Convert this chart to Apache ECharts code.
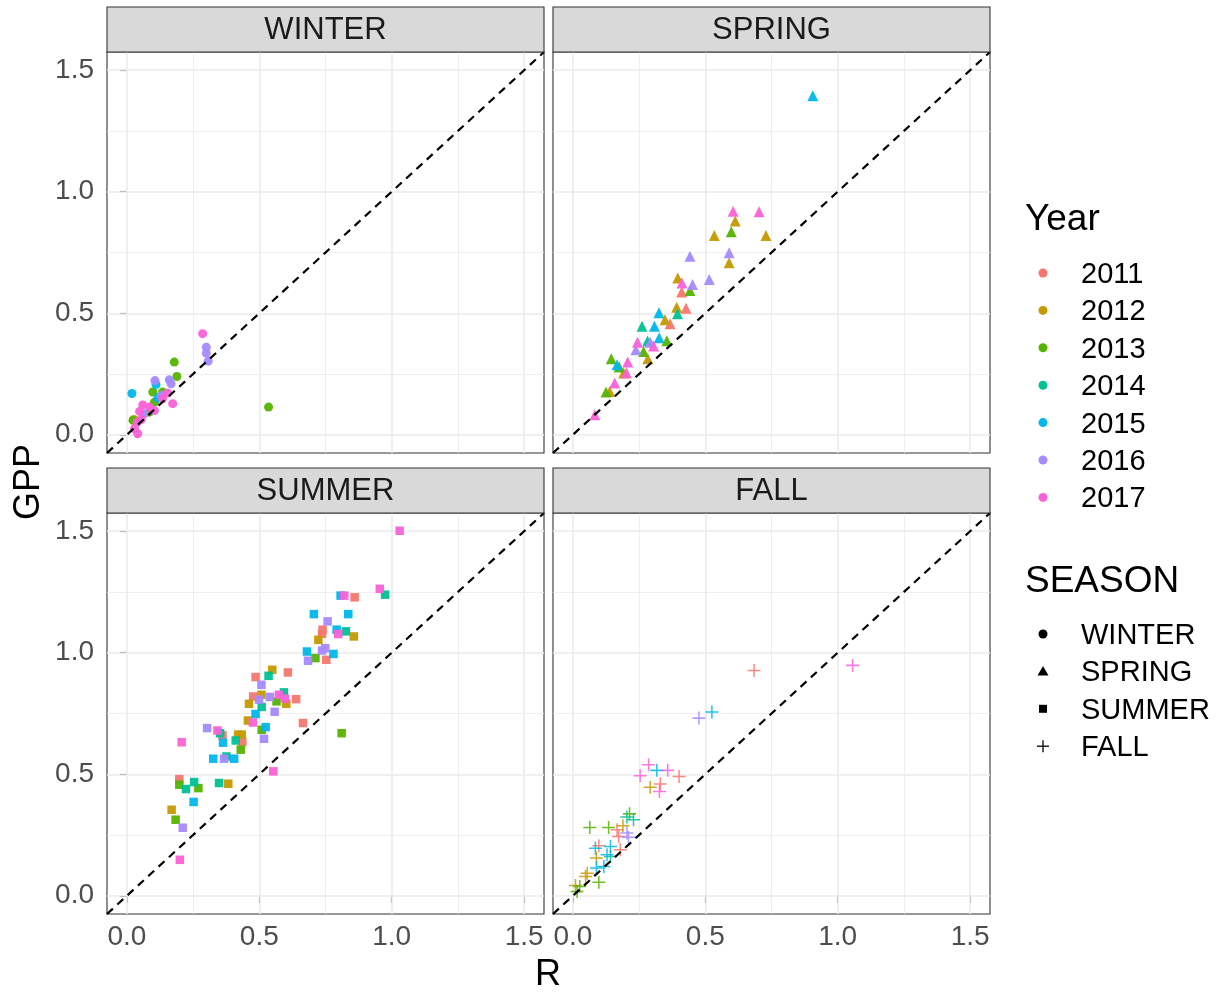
<!DOCTYPE html>
<html><head><meta charset="utf-8">
<script src="https://cdn.jsdelivr.net/npm/echarts@6/dist/echarts.min.js"></script>
<style>html,body{margin:0;padding:0;background:#fff}#c{width:1230px;height:995px}</style>
</head><body><div id="c"></div>
<script>
const years = [2011, 2012, 2013, 2014, 2015, 2016, 2017];
const yearColors = ['#F8766D', '#C49A00', '#53B400', '#00C094', '#00B6EB', '#A58AFF', '#FB61D7'];
const seasons = ['WINTER', 'SPRING', 'SUMMER', 'FALL'];
const tickValues = [0, 0.5, 1.0, 1.5];
const minorValues = [0.25, 0.75, 1.25];

const winterR   = [0.286,0.30,0.30,0.307,0.179,0.189,0.106,0.16,0.167,0.019,0.11,0.098,0.135,0.154,0.13,0.135,0.117,0.104,0.173,0.535,0.06,0.085,0.085,0.104,0.048,0.066,0.054,0.023,0.039,0.029,0.041,0.026];
const winterGPP = [0.416,0.36,0.336,0.303,0.299,0.24,0.223,0.226,0.21,0.17,0.207,0.176,0.176,0.172,0.162,0.148,0.151,0.134,0.128,0.114,0.123,0.114,0.093,0.1,0.096,0.086,0.063,0.059,0.052,0.025,0.004,0.063];
const winterYear= [2017,2016,2016,2016,2013,2013,2016,2016,2016,2015,2015,2013,2013,2017,2016,2017,2015,2013,2017,2013,2017,2017,2013,2017,2017,2016,2017,2013,2017,2017,2017,2012];

const springR   = [0.534,0.729,0.906,0.605,0.703,0.613,0.598,0.442,0.59,0.59,0.396,0.412,0.452,0.515,0.442,0.411,0.392,0.427,0.395,0.325,0.348,0.367,0.261,0.308,0.326,0.355,0.282,0.292,0.305,0.244,0.238,0.267,0.283,0.145,0.167,0.175,0.207,0.202,0.192,0.158,0.125,0.139,0.083];
const springGPP = [0.82,0.82,1.395,0.92,0.918,0.88,0.835,0.735,0.749,0.708,0.645,0.625,0.618,0.639,0.594,0.587,0.525,0.521,0.498,0.502,0.473,0.457,0.447,0.447,0.399,0.387,0.386,0.381,0.365,0.381,0.35,0.343,0.313,0.313,0.288,0.279,0.299,0.255,0.254,0.213,0.176,0.178,0.082];
const springYear= [2012,2012,2015,2017,2017,2012,2013,2016,2016,2012,2012,2017,2016,2016,2013,2011,2012,2011,2014,2015,2012,2011,2014,2015,2015,2013,2014,2016,2017,2017,2016,2013,2012,2013,2015,2013,2017,2017,2012,2017,2013,2012,2017];

const summerR   = [0.706,0.758,0.739,0.737,0.723,0.68,0.737,0.749,0.684,0.712,0.753,0.78,0.549,0.535,0.608,0.486,0.508,0.593,0.477,0.508,0.499,0.54,0.574,0.597,0.565,0.602,0.639,0.461,0.509,0.486,0.558,0.457,0.476,0.665,0.524,0.509,0.518,0.303,0.342,0.352,0.361,0.363,0.42,0.434,0.411,0.436,0.43,0.207,0.326,0.367,0.376,0.405,0.553,0.198,0.198,0.223,0.254,0.27,0.348,0.383,0.252,0.169,0.184,0.211,0.2,1.03,0.955,0.975,0.807,0.821,0.86,0.836,0.792,0.827,0.798,0.857,0.811];
const summerGPP = [1.159,1.129,1.095,1.078,1.053,1.005,1.009,1.019,0.967,0.978,0.971,0.995,0.93,0.905,0.919,0.9,0.868,0.837,0.82,0.827,0.807,0.818,0.827,0.811,0.8,0.79,0.809,0.79,0.777,0.748,0.757,0.721,0.713,0.711,0.694,0.683,0.646,0.69,0.68,0.669,0.66,0.63,0.663,0.663,0.639,0.632,0.601,0.632,0.564,0.564,0.573,0.564,0.512,0.48,0.457,0.439,0.468,0.443,0.464,0.461,0.386,0.354,0.313,0.28,0.148,1.502,1.263,1.239,1.235,1.235,1.228,1.159,1.095,1.088,1.077,1.067,0.669];
const summerYear= [2015,2016,2011,2011,2012,2015,2016,2016,2016,2013,2011,2015,2012,2014,2011,2011,2016,2014,2011,2012,2016,2016,2017,2017,2013,2012,2011,2012,2014,2015,2016,2012,2017,2011,2015,2013,2016,2016,2017,2014,2011,2015,2012,2012,2014,2011,2013,2017,2015,2016,2014,2015,2017,2011,2013,2014,2014,2013,2014,2012,2015,2012,2013,2016,2017,2017,2017,2014,2015,2017,2011,2015,2015,2014,2017,2012,2013];

const fallR   = [0.684,1.056,0.525,0.476,0.286,0.317,0.358,0.254,0.401,0.292,0.33,0.327,0.214,0.204,0.229,0.064,0.135,0.189,0.167,0.204,0.173,0.21,0.085,0.098,0.142,0.179,0.129,0.142,0.089,0.089,0.054,0.048,0.098,0.01,0.026,0.016,0.117];
const fallGPP = [0.927,0.948,0.756,0.731,0.539,0.516,0.516,0.494,0.491,0.447,0.46,0.429,0.337,0.324,0.313,0.281,0.281,0.288,0.272,0.258,0.244,0.241,0.196,0.206,0.203,0.189,0.169,0.162,0.155,0.114,0.093,0.079,0.056,0.042,0.038,0.018,0.12];
const fallYear= [2011,2017,2015,2016,2017,2015,2017,2017,2011,2012,2011,2017,2013,2014,2014,2013,2013,2012,2011,2016,2011,2016,2015,2011,2015,2011,2015,2014,2012,2015,2012,2012,2013,2012,2013,2013,2015];

const seasonData = [
  [winterR, winterGPP, winterYear],
  [springR, springGPP, springYear],
  [summerR, summerGPP, summerYear],
  [fallR, fallGPP, fallYear]
];
const plusPath = 'path://M5.3,0H6.7V12H5.3Z M0,5.3H12V6.7H0Z';
const seasonSymbols = ['circle', 'triangle', 'rect', plusPath];
const seasonSizes = [9, 11, 8.5, 13];

const FONT = '"Liberation Sans", Arial, sans-serif';
const lim = [-0.075, 1.575];
const panels = [
  {left: 107, top: 52}, {left: 553, top: 52},
  {left: 107, top: 513}, {left: 553, top: 513}
];
const PW = 437, PH = 401, SH = 45;

const grids = panels.map(p => ({
  left: p.left, top: p.top, width: PW, height: PH,
  show: true, backgroundColor: '#fff', borderColor: '#333333', borderWidth: 1.1, containLabel: false
}));

const xAxes = panels.map((p, i) => ({
  type: 'value', gridIndex: i, min: lim[0], max: lim[1],
  splitLine: {show: false}, axisLine: {show: false},
  axisTick: {show: i >= 2, customValues: tickValues, length: 7, lineStyle: {color: '#333333', width: 1.1}},
  axisLabel: {show: i >= 2, customValues: tickValues, formatter: v => v.toFixed(1),
    color: '#4D4D4D', fontSize: 28, fontFamily: FONT, margin: 9}
}));
const yAxes = panels.map((p, i) => ({
  type: 'value', gridIndex: i, min: lim[0], max: lim[1],
  splitLine: {show: false}, axisLine: {show: false},
  axisTick: {show: i % 2 === 0, customValues: tickValues, length: 7, lineStyle: {color: '#333333', width: 1.1}},
  axisLabel: {show: i % 2 === 0, customValues: tickValues, formatter: v => v.toFixed(1),
    color: '#4D4D4D', fontSize: 28, fontFamily: FONT, margin: 13}
}));

const series = [];
panels.forEach((p, i) => {
  const ml = [];
  minorValues.forEach(v => { ml.push({xAxis: v, lineStyle: {width: 0.8}}); ml.push({yAxis: v, lineStyle: {width: 0.8}}); });
  tickValues.forEach(v => { ml.push({xAxis: v, lineStyle: {width: 1.6}}); ml.push({yAxis: v, lineStyle: {width: 1.6}}); });
  series.push({
    type: 'line', xAxisIndex: i, yAxisIndex: i, z: 1, silent: true,
    data: [[lim[0] - 1, lim[0] - 1]], showSymbol: false, lineStyle: {opacity: 0},
    markLine: {silent: true, z: 1, symbol: ['none', 'none'], label: {show: false}, animation: false,
      lineStyle: {color: '#EBEBEB', type: 'solid'}, emphasis: {disabled: true}, data: ml}
  });
  const [R, G, Y] = seasonData[i];
  years.forEach((yr, k) => {
    const pts = [];
    R.forEach((r, j) => { if (Y[j] === yr) pts.push([r, G[j]]); });
    series.push({
      type: 'scatter', name: String(yr), xAxisIndex: i, yAxisIndex: i, z: 3,
      symbol: seasonSymbols[i], symbolSize: seasonSizes[i],
      itemStyle: {color: yearColors[k], opacity: i === 3 ? 0.85 : 0.95},
      data: pts, animation: false
    });
  });
  series.push({
    type: 'line', xAxisIndex: i, yAxisIndex: i, z: 4, silent: true, clip: true,
    data: [[lim[0], lim[0]], [lim[1], lim[1]]], showSymbol: false, animation: false,
    lineStyle: {color: '#000', width: 2.2, type: [8, 6]}
  });
});

const graphics = [];
panels.forEach((p, i) => {
  graphics.push({type: 'rect', shape: {x: p.left, y: p.top - SH, width: PW, height: SH},
    style: {fill: '#D9D9D9', stroke: '#333333', lineWidth: 1.1}, z: 10});
  graphics.push({type: 'text', x: p.left + PW / 2, y: p.top - SH / 2 + 1,
    style: {text: seasons[i], fill: '#1A1A1A', font: '31px ' + FONT, textAlign: 'center', textVerticalAlign: 'middle'}, z: 11});
});
graphics.push({type: 'text', x: 548, y: 975, style: {text: 'R', fill: '#000', font: '36px ' + FONT, textAlign: 'center', textVerticalAlign: 'middle'}});
graphics.push({type: 'text', x: 29, y: 482, rotation: Math.PI / 2,
  style: {text: 'GPP', fill: '#000', font: '36px ' + FONT, textAlign: 'center', textVerticalAlign: 'middle'}});

graphics.push({type: 'text', x: 1025, y: 220, style: {text: 'Year', fill: '#000', font: '37px ' + FONT, textVerticalAlign: 'middle'}});
years.forEach((yr, k) => {
  const cy = 273 + k * 37.4;
  graphics.push({type: 'circle', shape: {cx: 1043, cy: cy, r: 4.5}, style: {fill: yearColors[k]}});
  graphics.push({type: 'text', x: 1081, y: cy + 2, style: {text: String(yr), fill: '#000', font: '29px ' + FONT, textVerticalAlign: 'middle'}});
});
graphics.push({type: 'text', x: 1025, y: 582, style: {text: 'SEASON', fill: '#000', font: '37px ' + FONT, textVerticalAlign: 'middle'}});
seasons.forEach((s, k) => {
  const cy = 634 + k * 37.4;
  if (k === 0) graphics.push({type: 'circle', shape: {cx: 1043, cy: cy, r: 4.5}, style: {fill: '#000'}});
  if (k === 1) graphics.push({type: 'polygon', shape: {points: [[1043, cy - 5.5], [1048.5, cy + 4], [1037.5, cy + 4]]}, style: {fill: '#000'}});
  if (k === 2) graphics.push({type: 'rect', shape: {x: 1039, y: cy - 4, width: 8, height: 8}, style: {fill: '#000'}});
  if (k === 3) {
    graphics.push({type: 'line', shape: {x1: 1037, y1: cy, x2: 1049, y2: cy}, style: {stroke: '#000', lineWidth: 1.3}});
    graphics.push({type: 'line', shape: {x1: 1043, y1: cy - 6, x2: 1043, y2: cy + 6}, style: {stroke: '#000', lineWidth: 1.3}});
  }
  graphics.push({type: 'text', x: 1081, y: cy + 2, style: {text: s, fill: '#000', font: '29px ' + FONT, textVerticalAlign: 'middle'}});
});

const chart = echarts.init(document.getElementById('c'), null, {renderer: 'canvas'});
chart.setOption({
  animation: false,
  backgroundColor: '#fff',
  grid: grids, xAxis: xAxes, yAxis: yAxes, series: series, graphic: graphics
});
</script></body></html>
